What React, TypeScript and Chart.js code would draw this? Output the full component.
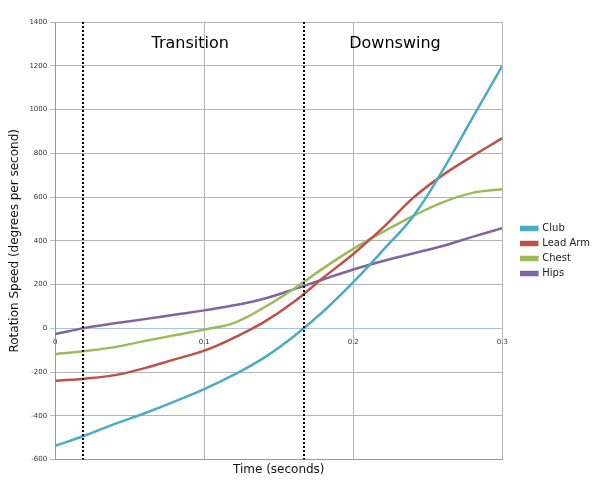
import React, { useEffect, useRef } from "react";
import { Chart, registerables } from "chart.js";

Chart.register(...registerables);

const TIMES = [0, 0.02, 0.04, 0.06, 0.08, 0.1, 0.12, 0.14, 0.16, 0.18, 0.2, 0.22, 0.24, 0.26, 0.28, 0.3];
const CLUB = [-537, -490, -437, -388, -335, -278, -212, -135, -37, 78, 211, 357, 510, 722, 962, 1200];
const LEAD_ARM = [-240, -230, -214, -182, -142, -102, -43, 28, 120, 232, 340, 460, 595, 700, 787, 869];
const CHEST = [-118, -104, -86, -58, -32, -6, 25, 95, 180, 275, 363, 441, 513, 576, 619, 636];
const HIPS = [-26, 2, 23, 42, 62, 82, 105, 135, 178, 224, 269, 308, 342, 376, 418, 458];

const SERIES_NAMES = ["Club", "Lead Arm", "Chest", "Hips"];
const SERIES_VALUES = [CLUB, LEAD_ARM, CHEST, HIPS];
const SERIES_COLORS = ["#4BACC6", "#C0504D", "#9BBB59", "#8064A2"];

const PHASE_MARKERS = [0.0185, 0.167];
const PHASE_LABELS = ["Transition", "Downswing"];
const PHASE_LABEL_X = [0.0906, 0.228];
const PHASE_LABEL_Y = 1300;

const phasePlugin = {
  id: "phases",
  afterDatasetsDraw(chart: any) {
    const { ctx, chartArea, scales } = chart;
    const x = scales.x;
    const y = scales.y;
    ctx.save();
    ctx.strokeStyle = "#000";
    ctx.lineWidth = 2;
    ctx.setLineDash([2, 2]);
    PHASE_MARKERS.forEach((t) => {
      const px = Math.round(x.getPixelForValue(t));
      ctx.beginPath();
      ctx.moveTo(px, chartArea.top);
      ctx.lineTo(px, chartArea.bottom);
      ctx.stroke();
    });
    ctx.setLineDash([]);
    ctx.fillStyle = "#000";
    ctx.font = "16px 'DejaVu Sans'";
    ctx.textAlign = "center";
    ctx.textBaseline = "middle";
    PHASE_LABELS.forEach((label, i) => {
      ctx.fillText(label, x.getPixelForValue(PHASE_LABEL_X[i]), y.getPixelForValue(PHASE_LABEL_Y));
    });
    ctx.restore();
  },
};

export default function App() {
  const ref = useRef<HTMLCanvasElement>(null);
  useEffect(() => {
    if (!ref.current) return;
    const chart = new Chart(ref.current, {
      type: "line",
      data: {
        datasets: SERIES_NAMES.map((name, i) => ({
          label: name,
          data: TIMES.map((t, j) => ({ x: t, y: SERIES_VALUES[i][j] })),
          borderColor: SERIES_COLORS[i],
          backgroundColor: SERIES_COLORS[i],
          borderWidth: 2.5,
          pointRadius: 0,
          tension: 0.4,
          xAxisID: "x",
          yAxisID: "y",
        })),
      },
      options: {
        animation: false,
        responsive: false,
        layout: { padding: { left: 4, top: 22, right: 0, bottom: 0 } },
        plugins: {
          legend: {
            position: "right",
            align: "center",
            labels: {
              boxWidth: 16,
              boxHeight: 3,
              padding: 5,
              color: "#222",
              font: { family: "'DejaVu Sans'", size: 10 },
            },
          },
          tooltip: { enabled: false },
        },
        scales: {
          x: {
            type: "linear",
            position: "bottom",
            min: 0,
            max: 0.3,
            ticks: { display: false, stepSize: 0.1 },
            grid: { color: "#b5b5b5", drawTicks: false },
            border: { color: "#999" },
            title: {
              display: true,
              text: "Time (seconds)",
              color: "#111",
              font: { family: "'DejaVu Sans'", size: 12 },
              padding: { top: 3, bottom: 3 },
            },
          },
          xZero: {
            type: "linear",
            position: { y: 0 },
            min: 0,
            max: 0.3,
            ticks: { stepSize: 0.1, color: "#333", font: { family: "'DejaVu Sans'", size: 7 }, padding: 2 },
            grid: { display: false },
            border: { display: false },
          },
          gap: {
            type: "linear",
            position: "right",
            display: true,
            ticks: { display: false },
            grid: { display: false, drawTicks: false },
            border: { display: false },
            afterFit: (scale: any) => {
              scale.width = 14;
            },
          },
          y: {
            type: "linear",
            min: -600,
            max: 1400,
            ticks: {
              stepSize: 200,
              color: "#333",
              font: { family: "'DejaVu Sans'", size: 7 },
              padding: 3,
              callback: (v: any) => String(v),
            },
            grid: {
              color: (c: any) => (c.tick && c.tick.value === 0 ? "#a9c4e4" : "#b5b5b5"),
              tickLength: 5,
            },
            border: { color: "#999" },
            title: {
              display: true,
              text: "Rotation Speed (degrees per second)",
              color: "#111",
              font: { family: "'DejaVu Sans'", size: 12 },
              padding: { top: 4, bottom: 4 },
            },
          },
        },
      },
      plugins: [phasePlugin],
    } as any);
    return () => chart.destroy();
  }, []);
  return (
    <div style={{ position: "absolute", left: 0, top: 0, width: 600, height: 480, background: "#fff" }}>
      <canvas ref={ref} width={600} height={480} style={{ width: 600, height: 480 }} />
    </div>
  );
}
